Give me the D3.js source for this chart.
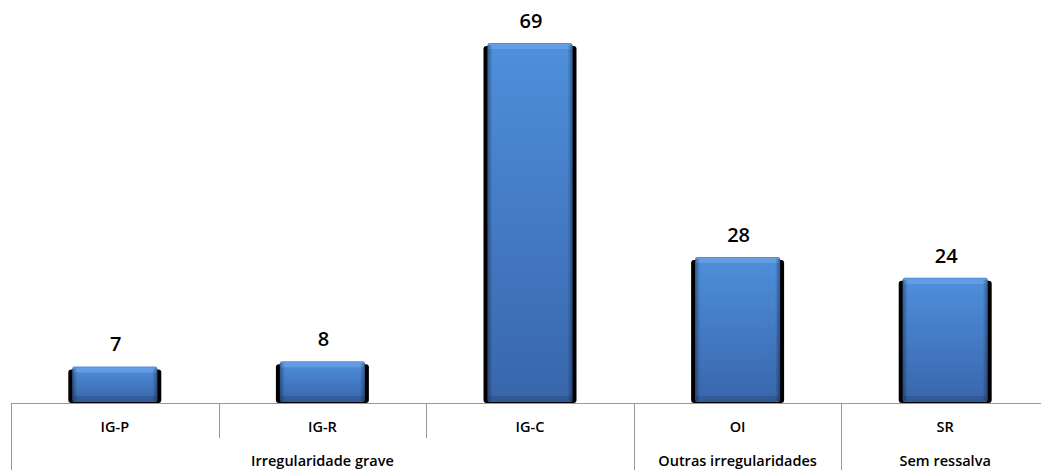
<!DOCTYPE html>
<html><head><meta charset="utf-8">
<script src="https://cdn.jsdelivr.net/npm/d3@7"></script>
<style>body{margin:0;background:#fff;} svg{display:block;}</style>
</head><body>
<svg id="c" width="1041" height="470"></svg>
<script>
const categories = ["IG-P","IG-R","IG-C","OI","SR"];
const groups = ["Irregularidade grave","Irregularidade grave","Irregularidade grave","Outras irregularidades","Sem ressalva"];
const values = [7, 8, 69, 28, 24];

const W = 1041, H = 470;
const left = 11, bandW = 207.6;
const axisY = 403;
const svg = d3.select("#c");
const FONT = "'Open Sans', Lato, sans-serif";

const x = d3.scaleBand().domain(categories).range([left, left + bandW*categories.length]).paddingInner(0).paddingOuter(0);
const y = d3.scaleLinear().domain([0, 69]).range([axisY, 43]);

const defs = svg.append("defs");
const g1 = defs.append("linearGradient").attr("id","bg").attr("x1",0).attr("y1",0).attr("x2",0).attr("y2",1);
g1.append("stop").attr("offset","0%").attr("stop-color","#4f8fdc");
g1.append("stop").attr("offset","100%").attr("stop-color","#3866ab");
const g2 = defs.append("linearGradient").attr("id","sideL").attr("x1",0).attr("y1",0).attr("x2",1).attr("y2",0);
g2.append("stop").attr("offset","0%").attr("stop-color","#000").attr("stop-opacity",0.35);
g2.append("stop").attr("offset","100%").attr("stop-color","#000").attr("stop-opacity",0);
const g3 = defs.append("linearGradient").attr("id","sideR").attr("x1",1).attr("y1",0).attr("x2",0).attr("y2",0);
g3.append("stop").attr("offset","0%").attr("stop-color","#000").attr("stop-opacity",0.35);
g3.append("stop").attr("offset","100%").attr("stop-color","#000").attr("stop-opacity",0);

const barW = 93;
const bars = svg.append("g").selectAll("g").data(values).join("g")
  .attr("transform",(d,i)=>`translate(${x(categories[i]) + x.bandwidth()/2 - barW/2},0)`);

bars.append("rect").attr("x",0).attr("y",d=>y(d)+3).attr("width",barW).attr("height",d=>axisY - y(d) - 3)
  .attr("rx",3).attr("fill","#000");
bars.append("rect").attr("x",4).attr("y",d=>y(d)).attr("width",barW-8).attr("height",d=>axisY - y(d) - 1)
  .attr("rx",2).attr("fill","url(#bg)");
bars.append("rect").attr("x",5).attr("y",d=>y(d)+1).attr("width",barW-10).attr("height",5)
  .attr("fill","#7fb2ee").attr("opacity",0.45);
bars.append("rect").attr("x",4).attr("y",d=>y(d)+2).attr("width",5).attr("height",d=>Math.max(0,axisY - y(d) - 4))
  .attr("fill","url(#sideL)");
bars.append("rect").attr("x",barW-9).attr("y",d=>y(d)+2).attr("width",5).attr("height",d=>Math.max(0,axisY - y(d) - 4))
  .attr("fill","url(#sideR)");
bars.append("rect").attr("x",5).attr("y",axisY-7).attr("width",barW-10).attr("height",6)
  .attr("fill","#000").attr("opacity",0.12);

svg.append("g").selectAll("text").data(values).join("text")
  .attr("x",(d,i)=>x(categories[i]) + x.bandwidth()/2 + 1)
  .attr("y",d=>y(d) - 15)
  .attr("text-anchor","middle")
  .attr("font-family",FONT).attr("font-weight","600")
  .attr("font-size",20).attr("fill","#000")
  .text(d=>d);

const ax = svg.append("g");
ax.append("line").attr("x1",left).attr("x2",W).attr("y1",axisY+0.5).attr("y2",axisY+0.5)
  .attr("stroke","#999").attr("stroke-width",1.2);

categories.forEach((c,i)=>{
  const xs = x(c);
  const groupBoundary = i===0 || groups[i] !== groups[i-1];
  ax.append("line").attr("x1",Math.round(xs)+0.5).attr("x2",Math.round(xs)+0.5)
    .attr("y1",axisY).attr("y2", groupBoundary ? H : 438)
    .attr("stroke","#999").attr("stroke-width",1);
});

ax.selectAll("text.cat").data(categories).join("text").attr("class","cat")
  .attr("x",d=>x(d)+x.bandwidth()/2).attr("y",432)
  .attr("text-anchor","middle")
  .attr("font-family",FONT).attr("font-weight","600")
  .attr("font-size",14.5).attr("fill","#000").text(d=>d);

const groupList = [];
groups.forEach((gname,i)=>{
  if (groupList.length && groupList[groupList.length-1].name===gname) groupList[groupList.length-1].end = i;
  else groupList.push({name:gname,start:i,end:i});
});
ax.selectAll("text.grp").data(groupList).join("text").attr("class","grp")
  .attr("x",d=>(x(categories[d.start]) + x(categories[d.end]) + x.bandwidth())/2).attr("y",466)
  .attr("text-anchor","middle")
  .attr("font-family",FONT).attr("font-weight","600")
  .attr("font-size",14.5).attr("fill","#000").text(d=>d.name);
</script>
</body></html>
